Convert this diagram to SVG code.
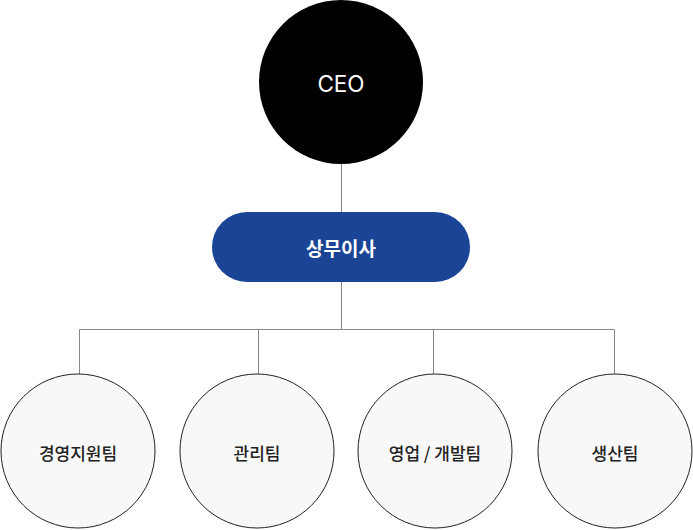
<svg xmlns="http://www.w3.org/2000/svg" width="693" height="530" viewBox="0 0 693 530">
<style>
.ln{stroke:#888;stroke-width:1;fill:none}
.team{fill:#f8f8f8;stroke:#222;stroke-width:1}
.tt{font-family:"Noto Sans CJK KR","Noto Sans",sans-serif;font-size:17px;font-weight:500;fill:#222;text-anchor:middle;dominant-baseline:central}
</style>
<rect width="693" height="530" fill="#fff"/>
<g id="connectors">
<line class="ln" x1="341.5" y1="160" x2="341.5" y2="213"/>
<line class="ln" x1="341.5" y1="282" x2="341.5" y2="329.5"/>
<polyline class="ln" points="79.5,374 79.5,329.5 614.5,329.5 614.5,374"/>
<line class="ln" x1="258.5" y1="329.5" x2="258.5" y2="374"/>
<line class="ln" x1="433.5" y1="329.5" x2="433.5" y2="374"/>
</g>
<g id="ceo">
<circle cx="341" cy="82" r="82" fill="#000"/>
<text x="341" y="83" font-family="Inter,'Noto Sans',sans-serif" font-size="22.5" fill="#fff" text-anchor="middle" dominant-baseline="central">CEO</text>
</g>
<g id="managing-director">
<rect x="212" y="212" width="258" height="70" rx="35" fill="#1a4496"/>
<text x="341" y="247" font-family="'Noto Sans CJK KR',sans-serif" font-size="19" font-weight="700" fill="#fff" text-anchor="middle" dominant-baseline="central">상무이사</text>
</g>
<g id="team1">
<circle class="team" cx="78" cy="451" r="77"/>
<text class="tt" x="78" y="452">경영지원팀</text>
</g>
<g id="team2">
<circle class="team" cx="257" cy="451" r="77"/>
<text class="tt" x="257" y="452">관리팀</text>
</g>
<g id="team3">
<circle class="team" cx="435" cy="451" r="77"/>
<text class="tt" x="435" y="452">영업 / 개발팀</text>
</g>
<g id="team4">
<circle class="team" cx="615" cy="451" r="77"/>
<text class="tt" x="615" y="452">생산팀</text>
</g>
</svg>
